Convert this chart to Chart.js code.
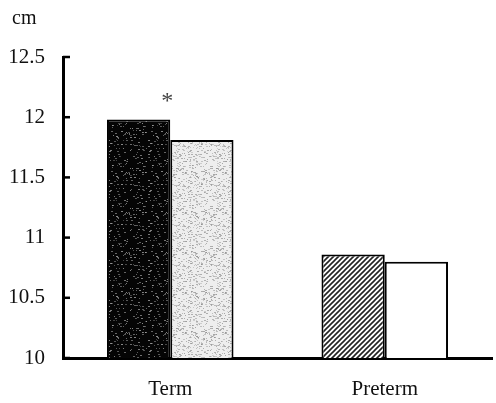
<!DOCTYPE html>
<html>
<head>
<meta charset="utf-8">
<script src="https://cdn.jsdelivr.net/npm/chart.js@4.4.1/dist/chart.umd.min.js"></script>
<style>
    html, body { margin: 0; padding: 0; background: #fff; }
    #wrap { width: 496px; height: 403px; position: relative; }
</style>
</head>
<body>
<div id="wrap"><canvas id="chart"></canvas></div>
<script>
// data
const categories = ['Term', 'Preterm'];
const groupA = [11.98, 10.86];
const groupB = [11.81, 10.80];
const yTicks = [10, 10.5, 11, 11.5, 12, 12.5];
const unitLabel = 'cm';
const marker = '*';

const FONT = '"Liberation Serif", "Times New Roman", serif';

// small deterministic noise so the texture is stable between renders
function hash(i) {
    let x = Math.sin(i * 12.9898) * 43758.5453;
    return x - Math.floor(x);
}

function speckle(base, dot, count, alpha) {
    const c = document.createElement('canvas');
    c.width = 40;
    c.height = 40;
    const ctx = c.getContext('2d');
    ctx.fillStyle = base;
    ctx.fillRect(0, 0, 40, 40);
    ctx.fillStyle = dot;
    for (let i = 0; i < count; i++) {
        ctx.globalAlpha = alpha * (0.4 + 0.6 * hash(i * 3 + 2));
        ctx.fillRect(Math.floor(hash(i * 3) * 40), Math.floor(hash(i * 3 + 1) * 40), 1 + (i % 2), 1);
    }
    return ctx.createPattern(c, 'repeat');
}

function hatch() {
    const c = document.createElement('canvas');
    c.width = 5;
    c.height = 5;
    const ctx = c.getContext('2d');
    ctx.fillStyle = '#fff';
    ctx.fillRect(0, 0, 5, 5);
    ctx.strokeStyle = '#222';
    ctx.lineWidth = 1.6;
    ctx.beginPath();
    ctx.moveTo(-1, 6);
    ctx.lineTo(6, -1);
    ctx.moveTo(-1, 1);
    ctx.lineTo(1, -1);
    ctx.moveTo(4, 6);
    ctx.lineTo(6, 4);
    ctx.stroke();
    return ctx.createPattern(c, 'repeat');
}

const blackSpeckle = speckle('#050505', '#aaa', 110, 0.8);
const greySpeckle = speckle('#eeeeee', '#888', 260, 0.7);

// tick marks point into the plot, drawn from the library's scale
const innerTicks = {
    id: 'innerTicks',
    afterDraw(chart) {
        const { ctx } = chart;
        const y = chart.scales.y;
        ctx.save();
        ctx.strokeStyle = '#000';
        ctx.lineWidth = 2.5;
        yTicks.forEach(v => {
            const py = y.getPixelForValue(v);
            ctx.beginPath();
            ctx.moveTo(y.right, py);
            ctx.lineTo(y.right + 7, py);
            ctx.stroke();
        });
        ctx.restore();
    },
};

const annotations = {
    id: 'annotations',
    afterDraw(chart) {
        const { ctx } = chart;
        ctx.save();
        ctx.fillStyle = '#111';
        ctx.font = '20px ' + FONT;
        ctx.textAlign = 'left';
        ctx.textBaseline = 'alphabetic';
        ctx.fillText(unitLabel, 12, 24);

        // significance mark sits over the Term group
        const bar = chart.getDatasetMeta(0).data[0];
        const cx = chart.scales.x.getPixelForValue(0);
        ctx.font = '24px ' + FONT;
        ctx.textAlign = 'center';
        ctx.fillStyle = '#444';
        ctx.fillText(marker, cx - 3, bar.y - 12);
        ctx.restore();
    },
};

new Chart(document.getElementById('chart'), {
    type: 'bar',
    data: {
        labels: categories,
        datasets: [{
            data: groupA,
            backgroundColor: [blackSpeckle, hatch()],
            borderColor: '#000',
            borderWidth: 2,
        }, {
            data: groupB,
            backgroundColor: [greySpeckle, '#fff'],
            borderColor: '#000',
            borderWidth: 2,
        }],
    },
    options: {
        responsive: true,
        maintainAspectRatio: false,
        animation: false,
        categoryPercentage: 0.59,
        barPercentage: 1,
        layout: {
            padding: { top: 57, right: 4, left: 0, bottom: 0 },
        },
        scales: {
            x: {
                grid: { display: false, drawTicks: false },
                border: { color: '#000', width: 3 },
                ticks: {
                    color: '#111',
                    padding: 19,
                    font: { family: FONT, size: 21 },
                },
                afterFit: scale => { scale.height = 45; },
            },
            y: {
                min: 10,
                max: 12.5,
                afterBuildTicks: scale => {
                    scale.ticks = yTicks.map(v => ({ value: v }));
                },
                grid: { display: false, drawTicks: false },
                border: { color: '#000', width: 3 },
                ticks: {
                    color: '#111',
                    padding: 18,
                    font: { family: FONT, size: 21 },
                    callback: value => String(value),
                },
                afterFit: scale => { scale.width = 63; },
            },
        },
        plugins: {
            legend: { display: false },
            tooltip: { enabled: false },
        },
    },
    plugins: [innerTicks, annotations],
});
</script>
</body>
</html>
